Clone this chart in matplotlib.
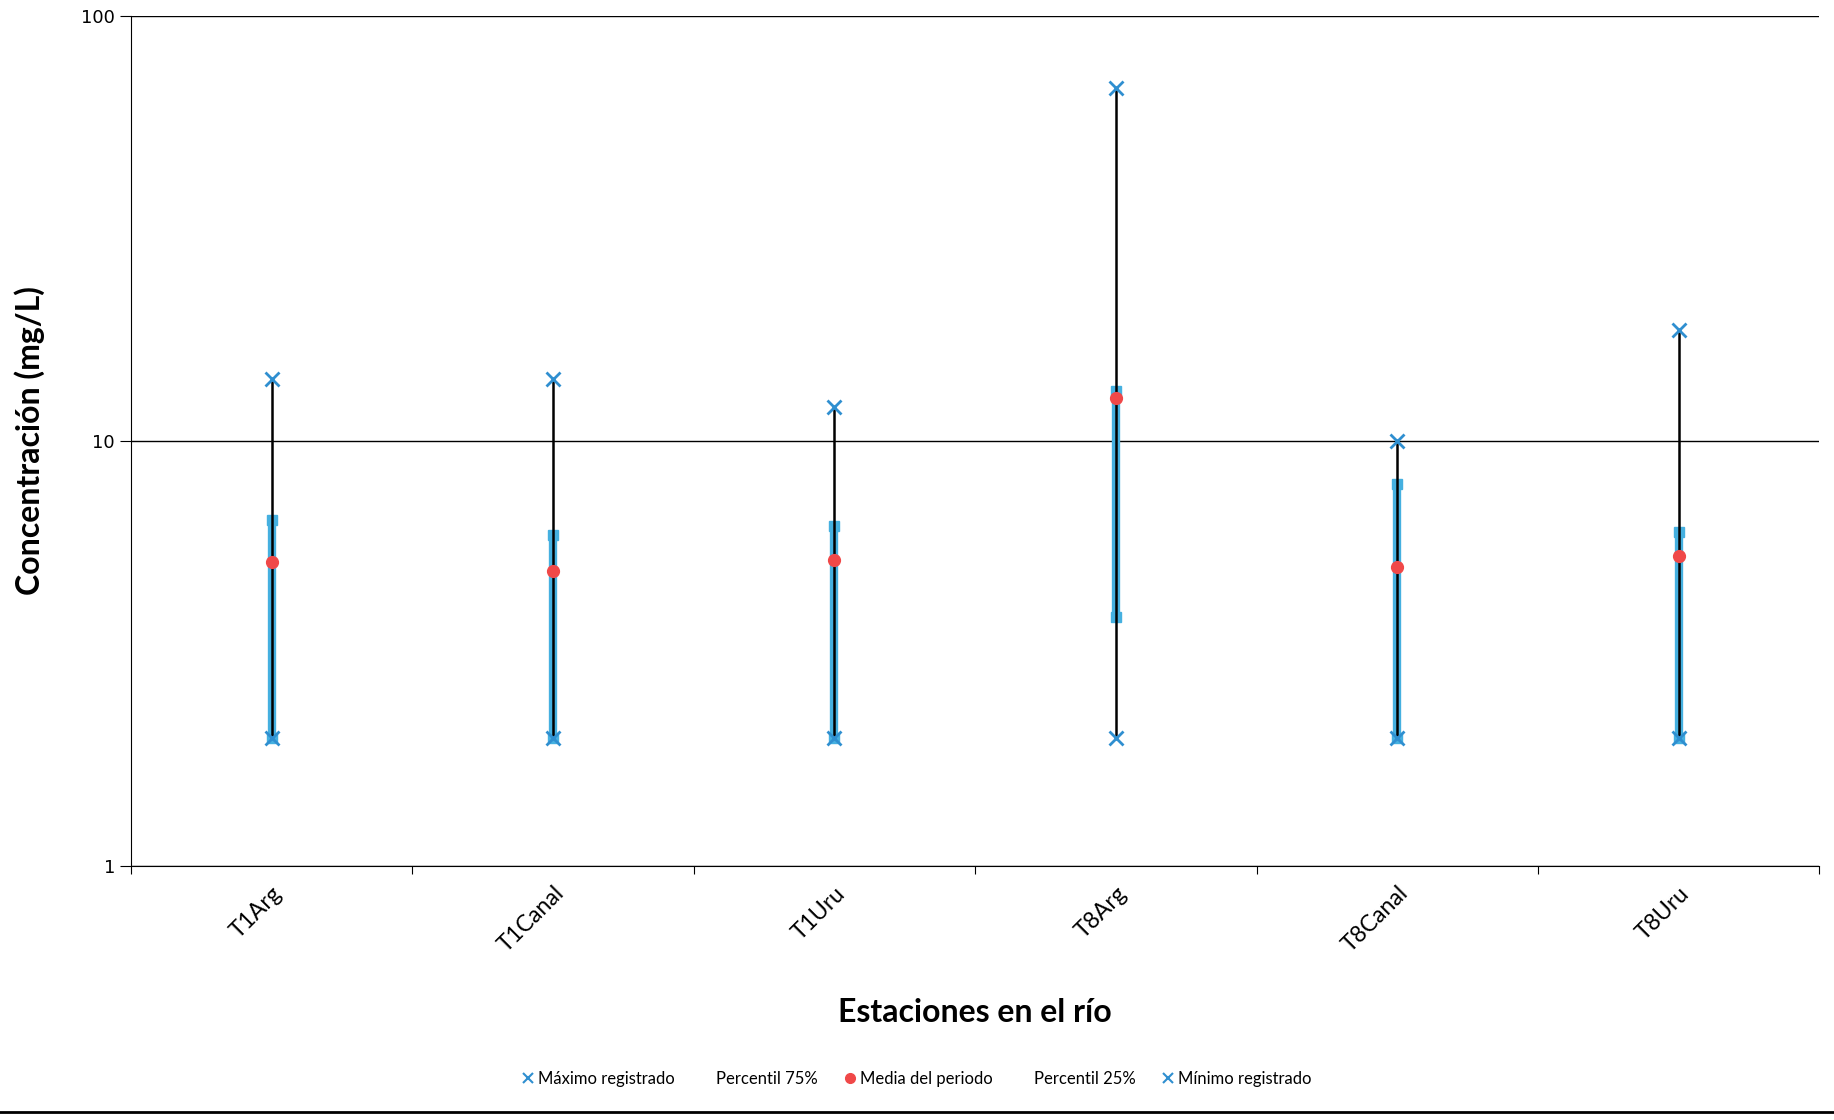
import matplotlib.pyplot as plt
from matplotlib.lines import Line2D
import numpy as np

# --- datos ---
estaciones = ["T1Arg", "T1Canal", "T1Uru", "T8Arg", "T8Canal", "T8Uru"]
maximo = [14.0, 14.0, 12.0, 67.5, 10.0, 18.2]
p75 = [6.5, 6.0, 6.3, 13.1, 7.9, 6.1]
media = [5.2, 4.95, 5.25, 12.6, 5.05, 5.35]
p25 = [2.0, 2.0, 2.0, 3.85, 2.0, 2.0]
minimo = [2.0, 2.0, 2.0, 2.0, 2.0, 2.0]

azul_x = "#2f8fd0"
azul_barra = "#45b0e0"
rojo = "#f04848"

plt.rcParams['font.family'] = ['Lato', 'DejaVu Sans']

fig = plt.figure(figsize=(18.34, 11.2), dpi=100)
ax = fig.add_axes([0.0714, 0.2268, 0.9206, 0.759])

x = np.arange(len(estaciones))

# barra percentiles (debajo) y linea maximo-minimo (encima)
ax.vlines(x, p25, p75, color=azul_barra, lw=6, zorder=2)
ax.plot(x, p75, ls="none", marker="s", ms=6.5, color=azul_barra, zorder=2)
ax.plot(x, p25, ls="none", marker="s", ms=6.5, color=azul_barra, zorder=2)
ax.vlines(x, minimo, maximo, color="black", lw=1.8, zorder=3)
ax.plot(x, media, ls="none", marker="o", ms=8.5, color=rojo, zorder=5)
ax.plot(x, maximo, ls="none", marker="x", ms=10, mew=2, color=azul_x, zorder=5)
ax.plot(x, minimo, ls="none", marker="x", ms=10, mew=2, color=azul_x, zorder=5)

ax.set_yscale("log")
ax.set_ylim(1, 100)
ax.set_xlim(-0.5, len(estaciones) - 0.5)
ax.set_yticks([1, 10, 100])
ax.set_yticklabels(["1", "10", "100"], family="DejaVu Sans", fontsize=13)
ax.minorticks_off()
ax.yaxis.grid(True, color="black", lw=1)
ax.set_axisbelow(True)

# ticks del eje x entre categorias, etiquetas centradas
ax.set_xticks(np.arange(-0.5, len(estaciones)), minor=False)
ax.set_xticklabels([])
ax.set_xticks(x, minor=True)
ax.set_xticklabels(estaciones, minor=True, rotation=45, ha="right",
                   rotation_mode="anchor", fontsize=16.5)
ax.tick_params(axis="x", which="minor", length=0, pad=12)
ax.tick_params(axis="x", which="major", length=6, color="black")
ax.tick_params(axis="y", length=8, color="black")

for s in ["top", "right"]:
    ax.spines[s].set_visible(False)
ax.spines["left"].set_color("black")
ax.spines["bottom"].set_color("black")

ax.set_xlabel("Estaciones en el río", fontsize=23, fontweight="bold", labelpad=30)
ax.set_ylabel("Concentración (mg/L)", fontsize=23, fontweight="bold", labelpad=26)

handles = [
    Line2D([], [], ls="none", marker="x", ms=7, mew=1.5, color=azul_x),
    Line2D([], [], ls="none", marker=None),
    Line2D([], [], ls="none", marker="o", ms=7, color=rojo),
    Line2D([], [], ls="none", marker=None),
    Line2D([], [], ls="none", marker="x", ms=7, mew=1.5, color=azul_x),
]
labels = ["Máximo registrado", "Percentil 75%", "Media del periodo",
          "Percentil 25%", "Mínimo registrado"]
fig.legend(handles, labels, loc="center", bbox_to_anchor=(0.5, 0.037),
           ncol=5, frameon=False, fontsize=12, handlelength=0.6,
           handletextpad=0.3, columnspacing=1.6)

# linea inferior de la pagina
fig.add_artist(Line2D([0, 1], [0.007, 0.007], color="black", lw=2,
                      transform=fig.transFigure))

fig.savefig("out.png", dpi=100)
